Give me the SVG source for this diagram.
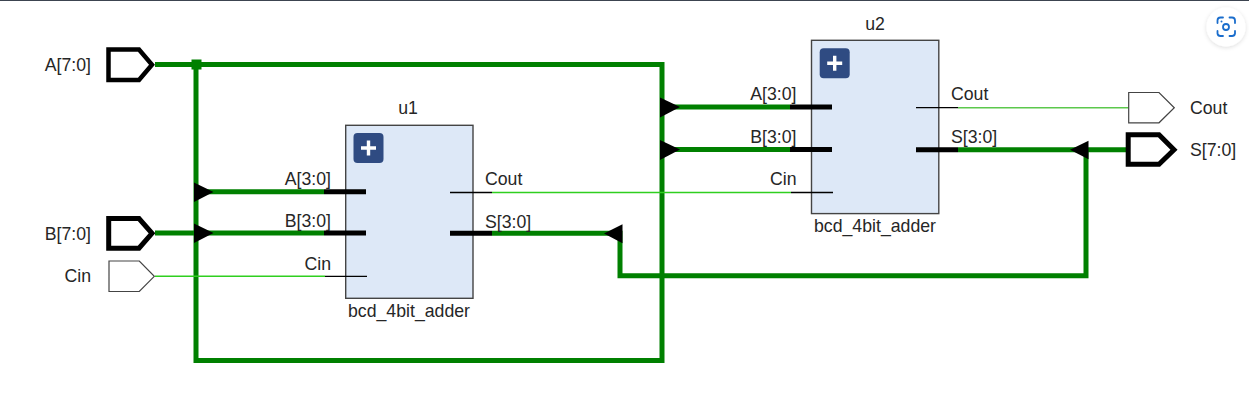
<svg xmlns="http://www.w3.org/2000/svg" width="1249" height="400" viewBox="0 0 1249 400">
<style>
text{font-family:"Liberation Sans",Arial,sans-serif;font-size:17.7px;fill:#262626}
.e{text-anchor:end}.m{text-anchor:middle}
.bus{fill:none;stroke:#008000;stroke-width:5;stroke-linecap:butt}
.sig{fill:none;stroke:#2fcf1f;stroke-width:1.4}
.sb{stroke:#000;stroke-width:5;fill:none}
.st{stroke:#000;stroke-width:1.3;fill:none}
.tri{fill:#000;stroke:none}
.pb{fill:#fff;stroke:#000;stroke-width:4.5}
.pt{fill:#fff;stroke:#444;stroke-width:1.2}
.box{fill:#dde8f7;stroke:#444;stroke-width:1.4}
.ic{fill:#2f4b82}
.pl{stroke:#fff;stroke-width:3.4;fill:none}
</style>
<defs>
<filter id="sh" x="-30%" y="-30%" width="160%" height="160%"><feDropShadow dx="0" dy="1" stdDeviation="2" flood-color="#000" flood-opacity="0.14"/></filter>
</defs>
<rect width="1249" height="400" fill="#fff"/>
<rect width="1249" height="1" fill="#3c4450"/>
<g id="connectors">
<path class="bus" d="M155 64.5H662V360.5H196V64.5"/>
<path class="bus" d="M196 191.8H324"/>
<path class="bus" d="M155 233H324"/>
<path class="bus" d="M662 107H790"/>
<path class="bus" d="M662 149.5H790"/>
<path class="bus" d="M492 233.3H620V275.7H1086V149.7"/>
<path class="bus" d="M958 149.7H1127"/>
<path class="sig" d="M155 276.3H325"/>
<path class="sig" d="M492 192.5H791"/>
<path class="sig" style="stroke:#5cc84c" d="M958 107.7H1129"/>
<rect x="191.5" y="59.5" width="10" height="10" fill="#008000"/>
<path class="tri" d="M194 182.5L213.5 192L194 202Z"/>
<path class="tri" d="M194 223.5L213.5 233L194 243Z"/>
<path class="tri" d="M660 97.5L680 107L660 117.5Z"/>
<path class="tri" d="M660 140L680 149.5L660 160Z"/>
<path class="tri" d="M622.5 224.3L604 233.5L622.5 243.3Z"/>
<path class="tri" d="M1088.5 140.7L1070 149.8L1088.5 159.3Z"/>
</g>
<g id="port_a"><path class="pb" d="M108.5 49.5H139L152 64.7L139 80H108.5Z"/><text class="e" x="91" y="71">A[7:0]</text></g>
<g id="port_b"><path class="pb" style="stroke-width:5" d="M108.7 218.5H139L152 233.3L139 248.2H108.7Z"/><text class="e" x="91" y="240">B[7:0]</text></g>
<g id="port_cin"><path class="pt" d="M109 261H139.3L154.3 276.3L139.3 291.5H109Z"/><text class="e" x="91" y="282">Cin</text></g>
<g id="port_cout"><path class="pt" d="M1128.7 92.5H1159L1174.3 107.7L1159 122.8H1128.7Z"/><text x="1190" y="113.5">Cout</text></g>
<g id="port_s"><path class="pb" style="stroke-width:5" d="M1128.2 134.7H1159L1174 149.8L1159 164.2H1128.2Z"/><text x="1190" y="156">S[7:0]</text></g>
<g id="u1">
<text class="m" x="408" y="114">u1</text>
<rect class="box" x="345.7" y="125.3" width="127.3" height="173"/>
<rect class="ic" x="353.5" y="133" width="30" height="30" rx="4"/>
<path class="pl" d="M368.5 140.5V155.5M361 148H376"/>
<path class="sb" d="M324 191.8H366M324 233H366M450 233.3H492"/>
<path class="st" d="M325 276.3H367M450 192.5H492"/>
<text class="e" x="331" y="185">A[3:0]</text>
<text class="e" x="331" y="227">B[3:0]</text>
<text class="e" x="331" y="270">Cin</text>
<text x="485" y="184.5">Cout</text>
<text x="485" y="227.5">S[3:0]</text>
<text class="m" x="409" y="317">bcd_4bit_adder</text>
</g>
<g id="u2">
<text class="m" x="875" y="30">u2</text>
<rect class="box" x="811.5" y="40.3" width="127.3" height="173.3"/>
<rect class="ic" x="819.7" y="48.3" width="30" height="30" rx="4"/>
<path class="pl" d="M834.7 55.8V70.8M827.2 63.3H842.2"/>
<path class="sb" d="M790 107H832M790 149.5H832M916 149.7H958"/>
<path class="st" d="M791 192.5H833M916 107.7H958"/>
<text class="e" x="796.5" y="100">A[3:0]</text>
<text class="e" x="796.5" y="143">B[3:0]</text>
<text class="e" x="796.5" y="185">Cin</text>
<text x="951" y="99.5">Cout</text>
<text x="951" y="142.5">S[3:0]</text>
<text class="m" x="875" y="232">bcd_4bit_adder</text>
</g>
<g id="lens">
<circle cx="1226" cy="27" r="19.5" fill="#fff" filter="url(#sh)"/>
<path fill="none" stroke="#1a6dcc" stroke-width="1.8" stroke-linecap="round" d="M1217.5 23V20.5A3 3 0 0 1 1220.5 17.5H1223M1229.5 17.5H1232A3 3 0 0 1 1235 20.5V23M1235 31V33.5A3 3 0 0 1 1232 36H1229.5M1223 36H1220.5A3 3 0 0 1 1217.5 33.5V31"/>
<circle cx="1226" cy="27" r="3" fill="none" stroke="#1a6dcc" stroke-width="1.8"/>
<circle cx="1221.5" cy="21.5" r="1" fill="#1a6dcc"/>
</g>
</svg>
